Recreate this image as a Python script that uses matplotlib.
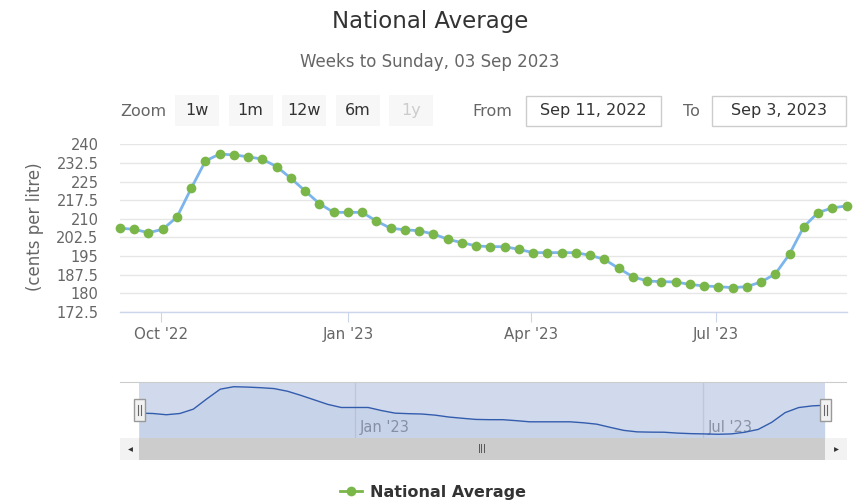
import matplotlib
matplotlib.use('Agg')
import matplotlib.pyplot as plt
import matplotlib.dates as mdates
import matplotlib.transforms as mtransforms
from matplotlib.patches import Rectangle
from matplotlib.lines import Line2D
import pandas as pd

plt.rcParams['font.family'] = ['DejaVu Sans']

# ---------------- data ----------------
week_ending = pd.date_range('2022-09-11', '2023-09-03', freq='W-SUN')
national_average = [206.2, 205.8, 204.4, 205.8, 210.7, 222.3, 233.3, 236.1, 235.7, 235.0,
                    234.0, 231.0, 226.3, 221.2, 216.1, 212.6, 212.6, 212.6, 209.1, 206.2,
                    205.6, 205.2, 203.9, 201.8, 200.4, 199.1, 198.8, 198.8, 197.7, 196.4,
                    196.4, 196.4, 196.4, 195.3, 193.7, 190.1, 186.7, 185.0, 184.7, 184.6,
                    183.6, 183.0, 182.7, 182.3, 182.7, 184.6, 187.8, 195.8, 206.8, 212.5,
                    214.4, 215.2]
y_ticks = [172.5, 180, 187.5, 195, 202.5, 210, 217.5, 225, 232.5, 240]
y_tick_labels = ['172.5', '180', '187.5', '195', '202.5', '210', '217.5', '225', '232.5', '240']
x_tick_dates = ['2022-10-01', '2023-01-01', '2023-04-01', '2023-07-01']
x_tick_labels = ["Oct '22", "Jan '23", "Apr '23", "Jul '23"]
nav_tick_dates = ['2023-01-01', '2023-07-01']
nav_tick_labels = ["Jan '23", "Jul '23"]
zoom_buttons = ['1w', '1m', '12w', '6m', '1y']
title = 'National Average'
subtitle = 'Weeks to Sunday, 03 Sep 2023'
series_name = 'National Average'
y_title = '(cents per litre)'
from_date = 'Sep 11, 2022'
to_date = 'Sep 3, 2023'

# ---------------- figure ----------------
W, H = 860, 500
fig = plt.figure(figsize=(W / 100, H / 100), dpi=100)


def ax_px(x0, y0, x1, y1):
    return fig.add_axes([x0 / W, 1 - y1 / H, (x1 - x0) / W, (y1 - y0) / H])


def fx(px):
    return px / W


def fy(py):
    return 1 - py / H


GREEN = '#7ab648'
LINE = '#7cb5ec'

# ---------------- main chart ----------------
ax = ax_px(120, 144.3, 846.5, 312)
x = mdates.date2num(week_ending)
ax.plot(x, national_average, color=LINE, lw=2, zorder=3, clip_on=False)
ax.plot(x, national_average, 'o', color=GREEN, ms=7, mec='none', zorder=4, clip_on=False)
ax.set_xlim(x[0], x[-1])
ax.set_ylim(172.5, 240)
ax.set_yticks(y_ticks)
ax.set_yticklabels(y_tick_labels)
ax.grid(axis='y', color='#e6e6e6', lw=1)
ax.set_axisbelow(True)
for s in ['top', 'right', 'left']:
    ax.spines[s].set_visible(False)
ax.spines['bottom'].set_color('#ccd6eb')
ax.spines['bottom'].set_linewidth(1)
ax.tick_params(axis='y', length=0, pad=15.5, labelsize=10.5, labelcolor='#666666')
ax.set_xticks(mdates.date2num(pd.to_datetime(x_tick_dates)))
ax.set_xticklabels(x_tick_labels)
ax.tick_params(axis='x', length=7.2, width=0.8, color='#ccd6eb', pad=3.5,
               labelsize=10.8, labelcolor='#666666')

fig.text(fx(35), fy(226.5), y_title, rotation=90, ha='center', va='center',
         fontsize=12, color='#666666')

# ---------------- titles ----------------
fig.text(fx(430), fy(27.7), title, ha='center', va='baseline', fontsize=16.5, color='#333333')
fig.text(fx(430), fy(62), subtitle, ha='center', va='center', fontsize=12, color='#666666')

# ---------------- range selector ----------------
fig.text(fx(120), fy(111), 'Zoom', ha='left', va='center', fontsize=11.5, color='#666666')
for i, lab in enumerate(zoom_buttons):
    bx0 = 175 + i * 53.6
    fig.patches.append(Rectangle((fx(bx0), fy(126)), 44 / W, 31 / H, transform=fig.transFigure,
                                 facecolor='#f7f7f7', edgecolor='none'))
    fig.text(fx(bx0 + 22), fy(110.5), lab, ha='center', va='center', fontsize=11.5,
             color='#cccccc' if lab == '1y' else '#333333')

fig.text(fx(512), fy(111), 'From', ha='right', va='center', fontsize=11.5, color='#666666')
fig.text(fx(700), fy(111), 'To', ha='right', va='center', fontsize=11.5, color='#666666')
for (bx0, bx1, txt) in [(526, 661, from_date), (712, 846, to_date)]:
    fig.patches.append(Rectangle((fx(bx0), fy(126)), (bx1 - bx0) / W, 30.5 / H,
                                 transform=fig.transFigure, facecolor='white',
                                 edgecolor='#cccccc', lw=1))
    fig.text(fx((bx0 + bx1) / 2), fy(110.5), txt, ha='center', va='center',
             fontsize=11.5, color='#333333')

# ---------------- navigator ----------------
nx0, nx1 = 120, 846.5
sel_x0, sel_x1 = 139.5, 825.5
span = x[-1] - x[0]
ppd = (sel_x1 - sel_x0) / span
xl = (x[0] - (sel_x0 - nx0) / ppd, x[-1] + (nx1 - sel_x1) / ppd)

nav = ax_px(nx0, 382.3, nx1, 438.3)
nav.set_xlim(*xl)
vmin, vmax = min(national_average), max(national_average)
r = vmax - vmin
nav.set_ylim(vmin - 0.085 * r, vmax + 0.093 * r)
nav.axvspan(x[0], x[-1], color=(102 / 255, 133 / 255, 194 / 255, 0.3), lw=0, zorder=1)
nav_x = mdates.date2num(pd.to_datetime(nav_tick_dates))
for d, lab in zip(nav_x, nav_tick_labels):
    nav.axvline(d, color='#e6e6e6', lw=1, zorder=0.5)
    nav.annotate(lab, xy=(d, 0.193), xycoords=('data', 'axes fraction'), xytext=(3.6, 0),
                 textcoords='offset points', ha='left', va='center', fontsize=10.5,
                 color='#999999', zorder=0.8)
nav.fill_between(x, national_average, nav.get_ylim()[0], color='#335cad', alpha=0.05, lw=0, zorder=2)
nav.plot(x, national_average, color='#335cad', lw=1, zorder=3)
for s in ['bottom', 'right', 'left']:
    nav.spines[s].set_visible(False)
nav.spines['top'].set_color('#cccccc')
nav.set_xticks([])
nav.set_yticks([])
nav.patch.set_alpha(0)

blend = mtransforms.blended_transform_factory(nav.transData, nav.transAxes)
hw = 11 / ppd
for d in (x[0], x[-1]):
    nav.add_patch(Rectangle((d - hw / 2, 0.309), hw, 0.393, transform=blend,
                            facecolor='#f2f2f2', edgecolor='#999999', lw=1, zorder=5,
                            clip_on=False))
    for off in (-1.5, 1.5):
        nav.plot([d + off / ppd, d + off / ppd], [0.42, 0.59], transform=blend,
                 color='#666666', lw=0.8, zorder=6, clip_on=False)

# ---------------- scrollbar ----------------
sb = ax_px(nx0, 438.3, nx1, 459.5)
sb.set_xlim(*xl)
sb.set_ylim(0, 1)
sb.set_facecolor('#f2f2f2')
sb.axvspan(x[0], x[-1], color='#cccccc', lw=0)
sb.plot([(xl[0] + x[0]) / 2], [0.5], marker='<', color='#333333', ms=3.5, mec='none')
sb.plot([(xl[1] + x[-1]) / 2], [0.5], marker='>', color='#333333', ms=3.5, mec='none')
sb.text((x[0] + x[-1]) / 2, 0.5, '|||', ha='center', va='center', fontsize=6.5, color='#333333')
for s in sb.spines.values():
    s.set_visible(False)
sb.set_xticks([])
sb.set_yticks([])

# ---------------- legend ----------------
handle = Line2D([], [], color=GREEN, lw=2, marker='o', ms=7, mec='none')
leg = fig.legend([handle], [series_name], loc='center', bbox_to_anchor=(fx(433), fy(492.5)),
                 frameon=False, handlelength=1.4, handletextpad=0.5, borderpad=0,
                 prop={'weight': 'bold', 'size': 11.5})
for t in leg.get_texts():
    t.set_color('#333333')

fig.savefig('out.png', dpi=100)
